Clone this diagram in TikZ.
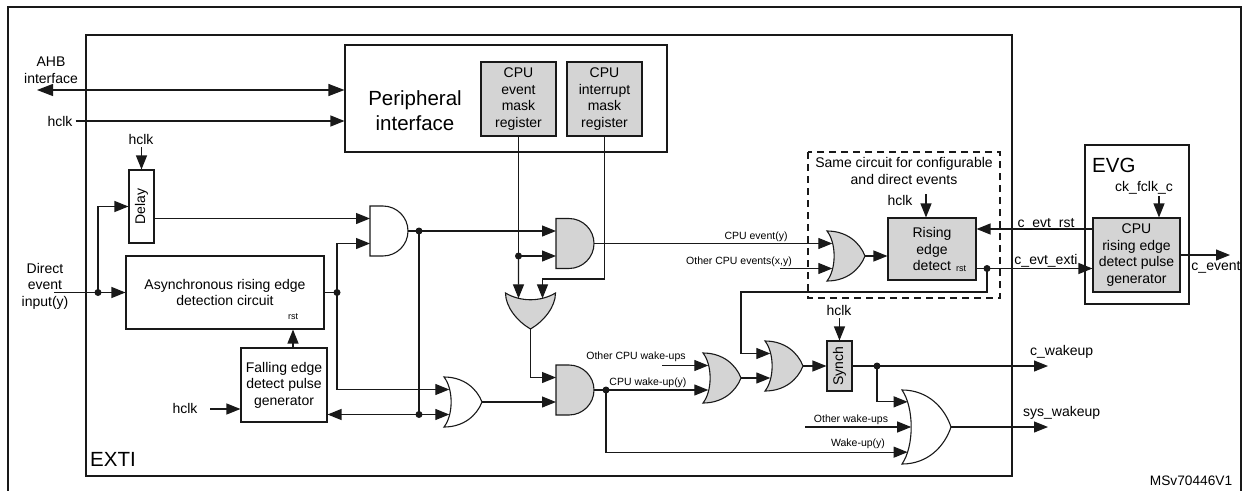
\documentclass[tikz,border=0pt]{standalone}
\usepackage{fontspec}
\setmainfont{Liberation Sans}
\usetikzlibrary{arrows.meta}
\definecolor{gfill}{RGB}{212,212,212}
\definecolor{ink}{RGB}{25,25,25}
\tikzset{
  wire/.style={line width=1.15pt, draw=ink},
  arr/.style={wire, -{Triangle[length=14pt,width=11pt]}},
  dar/.style={wire, {Triangle[length=16pt,width=12pt]}-{Triangle[length=16pt,width=12pt]}},
  dotn/.style={circle, fill=ink, draw=none, inner sep=0pt, minimum size=7pt},
  box/.style={draw=ink, line width=1.1pt, align=center, inner sep=0pt,
              font=\fontsize{14pt}{16.5pt}\selectfont},
  gbox/.style={box, fill=gfill},
  lbl/.style={inner sep=0pt, align=center, font=\fontsize{14pt}{16.5pt}\selectfont},
  sml/.style={inner sep=0pt, font=\fontsize{10.5pt}{12pt}\selectfont},
  bigt/.style={inner sep=0pt, align=center, font=\fontsize{20.5pt}{24.5pt}\selectfont},
  tinyt/.style={inner sep=0pt, font=\fontsize{9pt}{10pt}\selectfont},
  pics/andg/.style n args={3}{code={
    \draw[line width=1.1pt, draw=ink, fill=#1] (0,0) -- (0.34*#2,0)
      .. controls (0.704*#2,0) and (#2,0.224*#3) .. (#2,0.5*#3)
      .. controls (#2,0.776*#3) and (0.704*#2,#3) .. (0.34*#2,#3) -- (0,#3) -- cycle;
    \coordinate (-in1) at (0,0.25*#3);
    \coordinate (-in2) at (0,0.75*#3);
    \coordinate (-out) at (#2,0.5*#3);}},
  pics/org/.style n args={3}{code={
    \draw[line width=1.1pt, draw=ink, fill=#1] (0,0)
      .. controls (0.53*#2,0) and (0.87*#2,0.24*#3) .. (#2,0.5*#3)
      .. controls (0.87*#2,0.76*#3) and (0.53*#2,#3) .. (0,#3)
      .. controls (0.25*#2,0.76*#3) and (0.25*#2,0.24*#3) .. (0,0) -- cycle;
    \coordinate (-in1) at (0.14*#2,0.25*#3);
    \coordinate (-in2) at (0.14*#2,0.75*#3);
    \coordinate (-t) at (0.115*#2,0.16*#3);
    \coordinate (-m) at (0.1875*#2,0.5*#3);
    \coordinate (-b) at (0.115*#2,0.84*#3);
    \coordinate (-out) at (#2,0.5*#3);}},
  pics/ordown/.style n args={3}{code={
    \draw[line width=1.1pt, draw=ink, fill=#1] (0,0)
      .. controls (0.3*#2,0.25*#3) and (0.7*#2,0.25*#3) .. (#2,0)
      .. controls (#2,0.4*#3) and (0.75*#2,0.8*#3) .. (0.5*#2,#3)
      .. controls (0.25*#2,0.8*#3) and (0,0.4*#3) .. (0,0) -- cycle;
    \coordinate (-in1) at (0.26*#2,0.15*#3);
    \coordinate (-in2) at (0.74*#2,0.15*#3);
    \coordinate (-out) at (0.5*#2,#3);}},
}
\begin{document}
\begin{tikzpicture}[x=1pt,y=-1pt]
\useasboundingbox (0,0) rectangle (1242,490);
% frames
\draw[line width=2.6pt, draw=ink] (8,500) -- (8,7) -- (1241,7) -- (1241,500);
\draw[line width=1.4pt, draw=ink] (86,35) rectangle (1012,476);
\node[bigt, anchor=west] (exti) at (90,459) {EXTI};
\node[inner sep=0pt, font=\fontsize{13.7pt}{16pt}\selectfont] (msv) at (1191,481) {MSv70446V1};

% peripheral interface
\node[box, minimum width=322pt, minimum height=107pt] (periph) at (506,98.5) {};
\node[bigt] (ptxt) at (415,110.5) {Peripheral\\interface};
\node[gbox, minimum width=75pt, minimum height=74pt] (evmask) at (518.5,99) {CPU\\event\\mask\\register};
\node[gbox, minimum width=75pt, minimum height=74pt] (itmask) at (604.5,99) {CPU\\interrupt\\mask\\register};

\node[lbl] (ahb) at (51,70) {AHB\\interface};
\coordinate (ahbend) at (37,90);
\draw[dar] (ahbend) -- (ahbend -| periph.west);
\node[lbl] (hclkA) at (60,121) {hclk};
\draw[arr] ([xshift=3pt]hclkA.east) -- (hclkA.east -| periph.west);

% delay
\node[box, minimum width=25pt, minimum height=73pt] (delay) at (141.5,206.5) {};
\node[lbl, rotate=90] (dtxt) at (delay.center) {Delay};
\node[lbl] (hclkB) at (141,139) {hclk};
\draw[arr] (delay.north |- hclkB.south) ++(0,3) -- (delay.north);

% direct event input
\node[lbl] (din) at (45,286) {Direct\\event\\input(y)};
\coordinate (dstart) at (54,292.5);
\node[box, minimum width=198pt, minimum height=73pt] (async) at (225,292.5) {Asynchronous rising edge\\detection circuit};
\node[tinyt] (arst) at (293,317) {rst};
\node[dotn] (jd) at (98,292.5) {};
\draw[arr] (dstart) -- (async.west);
\draw[arr] (jd.center) |- (delay.west);

% falling edge
\node[box, minimum width=86pt, minimum height=74pt] (falling) at (284,385) {Falling edge\\detect pulse\\generator};
\coordinate (fk) at (293,348);
\draw[arr] (fk) -- (fk |- async.south);
\node[lbl] (hclkC) at (185,408) {hclk};
\coordinate (hk5) at (210,409);
\draw[arr] (hk5) -- (hk5 -| falling.west);

% gates
\pic (and1) at (370,206) {andg={white}{38}{50}};
\pic (and2) at (556,218.5) {andg={gfill}{38}{50}};
\pic (and3) at (556,365) {andg={gfill}{38}{50}};
\pic (or1) at (444,377) {org={white}{38}{50}};
\pic (ordn) at (505.5,293) {ordown={gfill}{50}{36}};
\pic (orA) at (827,231) {org={gfill}{38}{50}};
\pic (orB) at (703,353) {org={gfill}{38}{50}};
\pic (orC) at (765,341) {org={gfill}{38}{50}};
\pic (bor) at (902,390) {org={white}{49}{74}};

% left logic wiring
\node[dotn] (ja) at (337,292.5) {};
\draw[wire] (async.east) -- (ja.center);
\draw[arr] (ja.center) |- (and1-in2);
\draw[arr] (ja.center) |- (or1-in1);
\draw[arr] (delay.east |- and1-in1) -- (and1-in1);
\node[dotn] (j1) at (419,231) {};
\draw[wire] (and1-out) -- (j1.center);
\draw[arr] (j1.center) -- (and2-in1);
\node[dotn] (jb) at (419,414.5) {};
\draw[wire] (j1.center) -- (jb.center);
\draw[arr] (jb.center) -- (or1-in2);
\draw[arr] (jb.center) -- (jb.center -| falling.east);
\draw[arr] (or1-out) -- (or1-out -| and3-in2);

% mask registers
\node[dotn] (j2) at (518.5,256) {};
\draw[wire] (evmask.south) -- (j2.center);
\draw[arr] (j2.center) -- (and2-in2);
\draw[arr] (j2.center) -- (ordn-in1);
\coordinate (ik) at (604.5,279);
\draw[wire] (itmask.south) -- (ik);
\draw[arr] (ik) -| (ordn-in2);
\draw[arr] (ordn-out) |- (and3-in1);

% event path
\draw[arr] (and2-out) -- (orA-in1);
\node[sml] (lcev) at (756,237) {CPU event(y)};
\coordinate (oce) at (780,268.5);
\draw[arr] (oce) -- (orA-in2);
\node[sml] (locev) at (739,262) {Other CPU events(x,y)};

% dashed region
\draw[wire, dash pattern=on 7pt off 5pt] (808,152) rectangle (1000,298);
\node[lbl] (same) at (904,171) {Same circuit for configurable\\and direct events};
\node[gbox, minimum width=88pt, minimum height=62pt] (rising) at (932,249) {Rising\\edge\\detect};
\node[tinyt] (rrst) at (961,269) {rst};
\draw[arr] (orA-out) -- (orA-out -| rising.west);
\node[lbl] (hclkD) at (900,200) {hclk};
\coordinate (hk4) at (926,194);
\draw[arr] (hk4) -- (hk4 |- rising.north);

% EVG
\node[box, minimum width=104pt, minimum height=159pt] (evg) at (1137,224.5) {};
\node[bigt, anchor=west] (evgt) at (1092,165) {EVG};
\node[gbox, minimum width=87pt, minimum height=74pt] (cpurise) at (1136.5,255) {CPU\\rising edge\\detect pulse\\generator};
\node[lbl] (ckf) at (1144,188) {ck\_fclk\_c};
\coordinate (ck) at (1159,196);
\draw[arr] (ck) -- (ck |- cpurise.north);
\coordinate (crst) at (1093,229);
\draw[arr] (crst) -- (crst -| rising.east);
\node[lbl] (lrst) at (1046,224) {c\_evt\_rst};
\node[dotn] (jr) at (987,268.5) {};
\draw[wire] (rising.east |- jr) -- (jr.center);
\draw[arr] (jr.center) -- (jr.center -| cpurise.west);
\node[lbl] (lexti) at (1046,261) {c\_evt\_exti};
\coordinate (cev) at (1230,255);
\draw[arr] (cpurise.east) -- (cev);
\node[lbl] (lcevent) at (1216,267) {c\_event};

% wakeup path
\coordinate (wk1) at (741,292);
\draw[arr] (jr.center) |- (wk1) |- (orC-in1);
\node[dotn] (j3) at (606,390) {};
\draw[wire] (and3-out) -- (j3.center);
\draw[arr] (j3.center) -- (j3.center -| orB-in2);
\node[sml] (lcwu) at (648,383) {CPU wake-up(y)};
\coordinate (ocw) at (662,365.5);
\draw[arr] (ocw) -- (orB-in1);
\node[sml] (locwu) at (636,357) {Other CPU wake-ups};
\draw[arr] (orB-out) -- (orB-out -| orC-in2);
\node[gbox, minimum width=25pt, minimum height=50pt] (synch) at (839.5,366) {};
\node[lbl, rotate=90] (stxt) at (synch.center) {Synch};
\draw[arr] (orC-out) -- (orC-out -| synch.west);
\node[lbl] (hclkE) at (839,310) {hclk};
\draw[arr] (synch.north |- hclkE.south) ++(0,3) -- (synch.north);
\node[dotn] (j4) at (877,366) {};
\draw[wire] (synch.east) -- (j4.center);
\coordinate (cwk) at (1048,366);
\draw[arr] (j4.center) -- (cwk);
\node[lbl, anchor=west] (lcwk) at (1030,352) {c\_wakeup};
\draw[arr] (j4.center) |- (bor-t);
\coordinate (ow) at (805,427);
\draw[arr] (ow) -- (bor-m);
\node[sml] (low) at (851,420) {Other wake-ups};
\draw[arr] (j3.center) |- (bor-b);
\node[sml] (lwu) at (858,444) {Wake-up(y)};
\coordinate (swk) at (1048,427);
\draw[arr] (bor-out) -- (swk);
\node[lbl, anchor=west] (lswk) at (1023,413) {sys\_wakeup};
\end{tikzpicture}
\end{document}
